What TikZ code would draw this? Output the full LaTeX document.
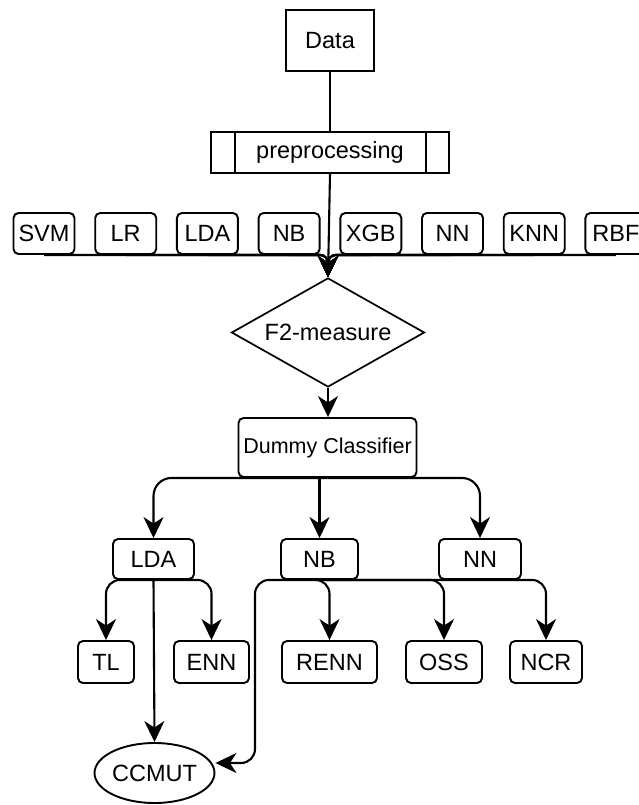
\documentclass[tikz,border=0pt]{standalone}
\usepackage{fontspec}
\setmainfont{Liberation Sans}
\usetikzlibrary{shapes.geometric,arrows.meta,calc}
\begin{document}
\begin{tikzpicture}[x=1pt,y=-1pt,
  every node/.style={font=\fontsize{23.5}{26}\selectfont, inner sep=0pt},
  sharpbox/.style={draw, line width=1.6pt, minimum width=#1},
  rbox/.style={draw, line width=1.9pt, rounded corners=5pt, minimum width=#1, minimum height=41pt},
  decision/.style={draw, diamond, line width=1.7pt, minimum width=193pt, minimum height=109pt, aspect=1.77},
  conn/.style={line width=2.1pt, arrows={-Stealth[length=21pt,width=20pt,inset=6.5pt]}},
  plain/.style={line width=2.1pt}]
\useasboundingbox (0,0) rectangle (639,805);
% top
\node[sharpbox=88pt, minimum height=61pt] (data) at (330,40.5) {Data};
\node[sharpbox=238pt, minimum height=41pt] (prep) at (330,152.5) {preprocessing};
\draw[line width=1.6pt] ($(prep.north west)+(25,0)$) -- ($(prep.south west)+(25,0)$);
\draw[line width=1.6pt] ($(prep.north east)+(-24,0)$) -- ($(prep.south east)+(-24,0)$);
% classifier row
\foreach \n/\t [count=\i from 0] in {svm/SVM,lr/LR,lda/LDA,nb/NB,xgb/XGB,nn/NN,knn/KNN,rbf/RBF}{
  \node[rbox=61pt] (\n) at ({44+81.7*\i},233.5) {\t};
}
\node[decision] (f2) at (328,332.5) {F2-measure};
\draw[plain] (data) -- (prep);
\foreach \n in {svm,lr,lda,nb,xgb,nn,knn,rbf}{
  \draw[conn, rounded corners=8pt] (\n.south) -| (f2.north);
}
\draw[conn] (prep.south) -- (f2.north);
% dummy
\node[rbox=178pt, minimum height=59pt, font=\fontsize{21.5}{24}\selectfont] (dummy) at (327.5,447.5) {Dummy Classifier};
\draw[conn] (f2.south) -- (f2.south |- dummy.north);
\node[rbox=81pt, minimum height=40pt] (lda2) at (153.5,559) {LDA};
\node[rbox=77pt, minimum height=40pt] (nb2) at (319.5,559) {NB};
\node[rbox=82pt, minimum height=40pt] (nn2) at (480,559) {NN};
\draw[conn, rounded corners=18pt] (dummy.south) -| (lda2.north);
\draw[conn, rounded corners=18pt] (dummy.south) -| (nn2.north);
\draw[conn] (nb2.north |- dummy.south) -- (nb2.north);
% resampling row
\node[rbox=56pt, minimum height=42pt] (tl) at (106,662) {TL};
\node[rbox=75pt, minimum height=42pt] (enn) at (211.5,662) {ENN};
\node[rbox=95pt, minimum height=42pt] (renn) at (329.5,662) {RENN};
\node[rbox=76pt, minimum height=42pt] (oss) at (444,662) {OSS};
\node[rbox=72pt, minimum height=42pt] (ncr) at (546,662) {NCR};
\node[draw, ellipse, line width=1.9pt, minimum width=115pt, minimum height=60pt] (ccmut) at (154.5,773) {CCMUT};
\draw[conn, rounded corners=14pt] (lda2.south) -| (tl.north);
\draw[conn, rounded corners=14pt] (lda2.south) -| (enn.north);
\draw[conn, rounded corners=14pt] (nb2.south) -| (renn.north);
\draw[conn, rounded corners=14pt] (nb2.south) -| (oss.north);
\draw[conn, rounded corners=14pt] (nb2.south) -| (ncr.north);
\draw[conn] (lda2.south) -- (ccmut.north);
\coordinate (bend) at (255,763);
\draw[conn, rounded corners=14pt] (nb2.south) -| (bend) -- ($(ccmut.east)+(0,-10)$);
\end{tikzpicture}
\end{document}
